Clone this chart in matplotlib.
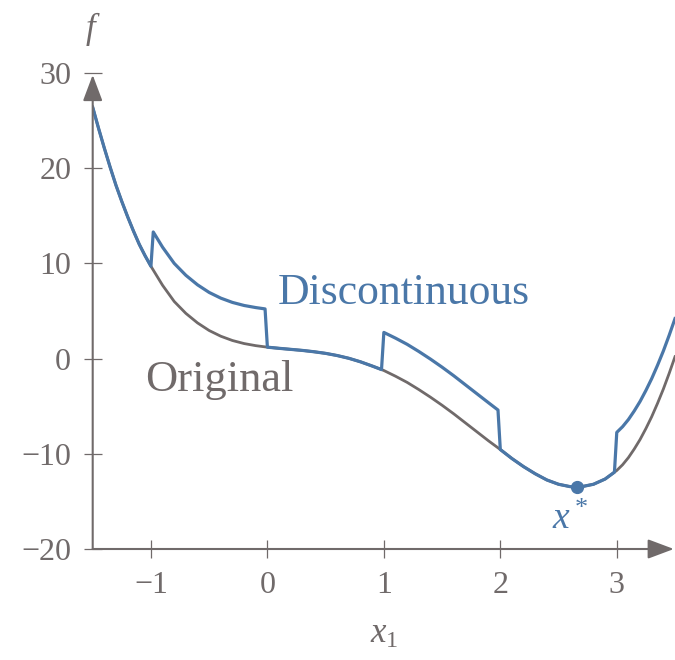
import matplotlib
matplotlib.use("Agg")
import matplotlib.pyplot as plt

# Values
x_orig = [-1.5, -1.45, -1.4, -1.35, -1.3, -1.25, -1.2, -1.15, -1.1, -1.05, -1.0,
          -0.9, -0.8, -0.7, -0.6, -0.5, -0.4, -0.3, -0.2, -0.1, 0.0,
          0.1, 0.2, 0.3, 0.4, 0.5, 0.6, 0.7, 0.8, 0.9, 1.0,
          1.1, 1.2, 1.3, 1.4, 1.5, 1.6, 1.7, 1.8, 1.9, 2.0,
          2.1, 2.2, 2.3, 2.4, 2.5, 2.6, 2.7, 2.8, 2.9, 3.0,
          3.05, 3.1, 3.15, 3.2, 3.25, 3.3, 3.35, 3.4, 3.45, 3.5]
f_orig = [26.4, 24.2, 22.1, 20.1, 18.2, 16.5, 14.9, 13.4, 12.0, 10.8, 9.7,
          7.7, 6.0, 4.75, 3.75, 2.95, 2.35, 1.9, 1.58, 1.36, 1.2,
          1.08, 0.97, 0.86, 0.72, 0.55, 0.32, 0.03, -0.34, -0.78, -1.25,
          -1.85, -2.5, -3.25, -4.05, -4.9, -5.8, -6.75, -7.7, -8.65, -9.55,
          -10.5, -11.35, -12.1, -12.75, -13.2, -13.45, -13.45, -13.2, -12.65, -11.75,
          -11.15, -10.4, -9.5, -8.5, -7.35, -6.1, -4.7, -3.2, -1.55, 0.2]

x_disc = [-1.5, -1.45, -1.4, -1.35, -1.3, -1.25, -1.2, -1.15, -1.1, -1.05, -1.0,
          -0.98, -0.9, -0.8, -0.7, -0.6, -0.5, -0.4, -0.3, -0.2, -0.1, -0.02,
          0.0, 0.1, 0.2, 0.3, 0.4, 0.5, 0.6, 0.7, 0.8, 0.9, 0.98,
          1.0, 1.1, 1.2, 1.3, 1.4, 1.5, 1.6, 1.7, 1.8, 1.9, 1.98,
          2.0, 2.1, 2.2, 2.3, 2.4, 2.5, 2.6, 2.7, 2.8, 2.9, 2.98,
          3.0, 3.05, 3.1, 3.15, 3.2, 3.25, 3.3, 3.35, 3.4, 3.45, 3.5]
f_disc = [26.4, 24.2, 22.1, 20.1, 18.2, 16.5, 14.9, 13.4, 12.0, 10.8, 9.7,
          13.3, 11.7, 10.0, 8.75, 7.75, 6.95, 6.35, 5.9, 5.58, 5.36, 5.22,
          1.2, 1.08, 0.97, 0.86, 0.72, 0.55, 0.32, 0.03, -0.34, -0.78, -1.15,
          2.75, 2.15, 1.5, 0.75, -0.05, -0.9, -1.8, -2.75, -3.7, -4.65, -5.4,
          -9.55, -10.5, -11.35, -12.1, -12.75, -13.2, -13.45, -13.45, -13.2, -12.65, -11.93,
          -7.75, -7.15, -6.4, -5.5, -4.5, -3.35, -2.1, -0.7, 0.8, 2.45, 4.2]

x_opt = 2.66
f_opt = -13.5

x_ticks = [-1, 0, 1, 2, 3]
y_ticks = [-20, -10, 0, 10, 20, 30]

gray = "#706a6a"
blue = "#4a77a8"

plt.rcParams["font.family"] = ["Liberation Serif", "DejaVu Serif"]
plt.rcParams["mathtext.fontset"] = "custom"
plt.rcParams["mathtext.rm"] = "Liberation Serif"
plt.rcParams["mathtext.it"] = "Liberation Serif:italic"

fig = plt.figure(figsize=(6.75, 6.6), dpi=100)
ax = fig.add_axes([92.7 / 675, 111 / 660, (675 - 92.7) / 675, 476 / 660])

ax.plot(x_orig, f_orig, color=gray, lw=2.0, zorder=2)
ax.plot(x_disc, f_disc, color=blue, lw=2.3, zorder=3)
ax.plot([x_opt], [f_opt], "o", color=blue, ms=8.5, zorder=4)

ax.set_xlim(-1.5, 3.5)
ax.set_ylim(-20, 30)
for s in ax.spines.values():
    s.set_visible(False)

ax.set_xticks(x_ticks)
ax.set_yticks(y_ticks)
ax.set_xticklabels([f"{t}".replace("-", "\u2212") for t in x_ticks])
ax.set_yticklabels([f"{t}".replace("-", "\u2212") for t in y_ticks])
ax.tick_params(axis="both", direction="inout", length=13, width=0.9,
               color=gray, labelcolor=gray, labelsize=23)
ax.tick_params(axis="x", pad=9)
ax.tick_params(axis="y", pad=9)

# axes with arrow heads
arrow = dict(arrowstyle="-|>,head_length=0.8,head_width=0.3", lw=1.5,
             color=gray, shrinkA=0, shrinkB=0, mutation_scale=20)
ax.annotate("", xy=(3.49, -20), xytext=(-1.5, -20), arrowprops=arrow,
            annotation_clip=False, zorder=5)
ax.annotate("", xy=(-1.5, 29.8), xytext=(-1.5, -20), arrowprops=arrow,
            annotation_clip=False, zorder=5)

ax.text(1.0, -29.0, r"$x_1$", color=gray, fontsize=25, ha="center", va="center")
ax.text(-1.5, 34.6, r"$f$", color=gray, fontsize=25, ha="center", va="center")

ax.text(0.09, 6.9, "Discontinuous", color=blue, fontsize=31.5, ha="left", va="center")
ax.text(-1.05, -2.2, "Original", color=gray, fontsize=32, ha="left", va="center")
ax.text(2.6, -16.9, r"$x^*$", color=blue, fontsize=27, ha="center", va="center")

fig.savefig("out.png", dpi=100)
